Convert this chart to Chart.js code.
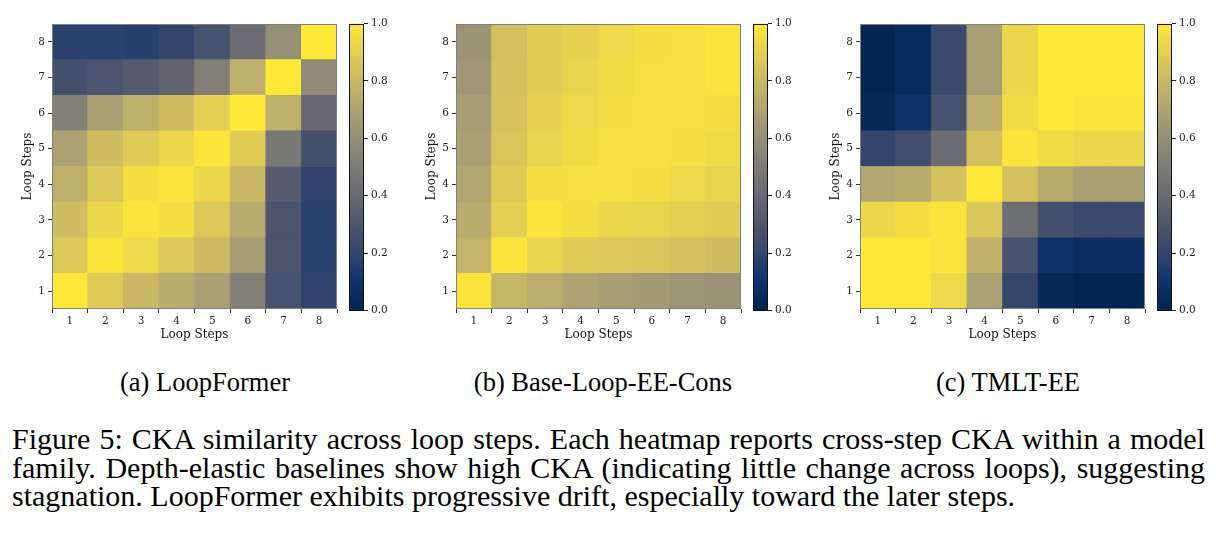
<!DOCTYPE html>
<html>
<head>
<meta charset="utf-8">
<script src="https://cdn.jsdelivr.net/npm/chart.js@4.4.1/dist/chart.umd.min.js"></script>
<style>
  body { margin: 0; background: #fff; width: 1219px; height: 539px; overflow: hidden; position: relative; font-family: "Liberation Serif", "Times New Roman", serif; color: #000; }
  canvas { position: absolute; top: 0; }
  .sub { position: absolute; top: 367px; font-size: 26.5px; white-space: nowrap; transform: translateX(-50%); }
  #caption { position: absolute; left: 12px; top: 425px; width: 1193px; font-size: 30px; line-height: 28.5px; }
  #caption div { white-space: nowrap; text-align: justify; text-align-last: justify; }
  #caption div.last { text-align-last: left; }
</style>
</head>
<body>
<canvas id="hm1" width="345" height="350" style="left:0px"></canvas>
<canvas id="cb1" width="60" height="350" style="left:340px"></canvas>
<canvas id="hm2" width="345" height="350" style="left:404px"></canvas>
<canvas id="cb2" width="60" height="350" style="left:744px"></canvas>
<canvas id="hm3" width="345" height="350" style="left:808px"></canvas>
<canvas id="cb3" width="60" height="350" style="left:1148px"></canvas>

<div class="sub" style="left:205px">(a) LoopFormer</div>
<div class="sub" style="left:603px">(b) Base-Loop-EE-Cons</div>
<div class="sub" style="left:1008px">(c) TMLT-EE</div>
<div id="caption">
  <div>Figure 5: CKA similarity across loop steps. Each heatmap reports cross-step CKA within a model</div>
  <div>family. Depth-elastic baselines show high CKA (indicating little change across loops), suggesting</div>
  <div class="last">stagnation. LoopFormer exhibits progressive drift, especially toward the later steps.</div>
</div>

<script>
// loop steps on both axes
const steps = [1, 2, 3, 4, 5, 6, 7, 8];

// CKA grids: row i is y step i+1 (bottom to top), columns are x steps 1..8
const loopFormer = [
  [1.00, 0.88, 0.80, 0.74, 0.68, 0.52, 0.27, 0.19],
  [0.87, 0.99, 0.94, 0.87, 0.81, 0.67, 0.29, 0.18],
  [0.82, 0.93, 0.98, 0.96, 0.87, 0.74, 0.29, 0.18],
  [0.76, 0.87, 0.96, 0.99, 0.93, 0.80, 0.33, 0.19],
  [0.69, 0.82, 0.88, 0.93, 0.99, 0.89, 0.48, 0.26],
  [0.53, 0.68, 0.76, 0.82, 0.90, 1.00, 0.76, 0.40],
  [0.26, 0.29, 0.33, 0.38, 0.52, 0.76, 1.00, 0.58],
  [0.18, 0.18, 0.17, 0.20, 0.27, 0.42, 0.60, 1.00]
];
const baseLoopEECons = [
  [0.99, 0.79, 0.75, 0.70, 0.67, 0.66, 0.63, 0.62],
  [0.78, 0.99, 0.92, 0.88, 0.87, 0.86, 0.84, 0.82],
  [0.74, 0.90, 0.99, 0.96, 0.93, 0.92, 0.90, 0.89],
  [0.71, 0.88, 0.96, 0.97, 0.97, 0.96, 0.94, 0.92],
  [0.68, 0.86, 0.92, 0.95, 0.97, 0.97, 0.96, 0.95],
  [0.67, 0.85, 0.91, 0.94, 0.96, 0.97, 0.97, 0.96],
  [0.64, 0.84, 0.89, 0.92, 0.95, 0.97, 0.97, 0.98],
  [0.62, 0.83, 0.89, 0.91, 0.94, 0.96, 0.97, 0.98]
];
const tmltEE = [
  [1.00, 1.00, 0.94, 0.69, 0.21, 0.04, 0.02, 0.02],
  [1.00, 1.00, 0.98, 0.77, 0.28, 0.09, 0.06, 0.06],
  [0.93, 0.96, 0.99, 0.86, 0.43, 0.26, 0.22, 0.22],
  [0.72, 0.74, 0.84, 1.00, 0.84, 0.74, 0.68, 0.68],
  [0.20, 0.25, 0.42, 0.84, 0.99, 0.95, 0.93, 0.93],
  [0.04, 0.09, 0.27, 0.75, 0.95, 1.00, 0.99, 0.99],
  [0.02, 0.05, 0.22, 0.68, 0.93, 1.00, 1.00, 1.00],
  [0.02, 0.05, 0.22, 0.68, 0.93, 1.00, 1.00, 1.00]
];

const colorbarTicks = [0, 0.2, 0.4, 0.6, 0.8, 1.0];
// cividis, evenly spaced from 0 to 1
const cividis = ['#00224e', '#123570', '#3b496c', '#575d6d', '#707173', '#8a8678', '#a59c74', '#c3b369', '#e1cc55', '#fee838'];

function rgb(h) {
  return [1, 3, 5].map(i => parseInt(h.substr(i, 2), 16));
}
function cmap(v) {
  const t = Math.min(Math.max(v, 0), 1) * (cividis.length - 1);
  const i = Math.min(Math.floor(t), cividis.length - 2);
  const f = t - i;
  const a = rgb(cividis[i]), b = rgb(cividis[i + 1]);
  return 'rgb(' + a.map((c, k) => Math.round(c + (b[k] - c) * f)).join(',') + ')';
}

const tickFont = { family: 'DejaVu Serif', size: 10.5 };
const titleFont = { family: 'DejaVu Serif', size: 12 };

// outline round the plot area
const frame = {
  id: 'frame',
  afterDatasetsDraw(chart, args, opts) {
    const a = chart.chartArea, ctx = chart.ctx;
    ctx.save();
    ctx.strokeStyle = opts.color;
    ctx.lineWidth = 1;
    ctx.strokeRect(Math.round(a.left) + 0.5, Math.round(a.top) + 0.5, Math.round(a.right - a.left) - 1, Math.round(a.bottom - a.top) - 1);
    ctx.restore();
  }
};

function heatmap(id, grid) {
  new Chart(document.getElementById(id), {
    type: 'bar',
    data: {
      labels: steps,
      datasets: grid.map((row, i) => ({
        data: row.map(() => [steps[i] - 0.5, steps[i] + 0.5]),
        backgroundColor: row.map(cmap),
        borderWidth: 0,
        borderSkipped: false,
        barPercentage: 1,
        categoryPercentage: 1,
        grouped: false
      }))
    },
    options: {
      responsive: false,
      animation: false,
      events: [],
      layout: { padding: { left: 21, top: 24, right: 8, bottom: 0 } },
      plugins: { legend: { display: false }, tooltip: { enabled: false }, frame: { color: '#808080' } },
      scales: {
        x: {
          grid: { drawOnChartArea: false, tickLength: 4, color: '#333' },
          border: { display: false },
          ticks: { font: tickFont, color: '#222', padding: 2, maxRotation: 0 },
          title: { display: true, text: 'Loop Steps', font: titleFont, color: '#111', padding: { top: 0, bottom: 8 } },
          afterFit(s) { s.height = 41; }
        },
        y: {
          min: 0.5, max: 8.5,
          afterBuildTicks(s) { s.ticks = steps.map(v => ({ value: v })); },
          grid: { drawOnChartArea: false, tickLength: 4, color: '#333' },
          border: { display: false },
          ticks: { font: tickFont, color: '#222', padding: 3 },
          title: { display: true, text: 'Loop Steps', font: titleFont, color: '#111', padding: 0 },
          afterFit(s) { s.width = 31; }
        }
      }
    },
    plugins: [frame]
  });
}

function colorbar(id) {
  new Chart(document.getElementById(id), {
    type: 'bar',
    data: {
      labels: [''],
      datasets: [{
        data: [[colorbarTicks[0], colorbarTicks[colorbarTicks.length - 1]]],
        backgroundColor(c) {
          const a = c.chart.chartArea;
          if (!a) return cividis[0];
          const g = c.chart.ctx.createLinearGradient(0, a.bottom, 0, a.top);
          cividis.forEach((col, i) => g.addColorStop(i / (cividis.length - 1), col));
          return g;
        },
        borderWidth: 0,
        borderSkipped: false,
        barPercentage: 1,
        categoryPercentage: 1
      }]
    },
    options: {
      responsive: false,
      animation: false,
      events: [],
      layout: { padding: { left: 9, top: 23.5, right: 0, bottom: 39.5 } },
      plugins: { legend: { display: false }, tooltip: { enabled: false }, frame: { color: '#111' } },
      scales: {
        x: { display: false },
        y: {
          position: 'right',
          min: 0, max: 1,
          afterBuildTicks(s) { s.ticks = colorbarTicks.map(v => ({ value: v })); },
          grid: { drawOnChartArea: false, tickLength: 4, color: '#222' },
          border: { display: false },
          ticks: { font: tickFont, color: '#222', padding: 3, callback: v => v.toFixed(1) },
          afterFit(s) { s.width = 36; }
        }
      }
    },
    plugins: [frame]
  });
}

heatmap('hm1', loopFormer);
heatmap('hm2', baseLoopEECons);
heatmap('hm3', tmltEE);
colorbar('cb1');
colorbar('cb2');
colorbar('cb3');
</script>
</body>
</html>
